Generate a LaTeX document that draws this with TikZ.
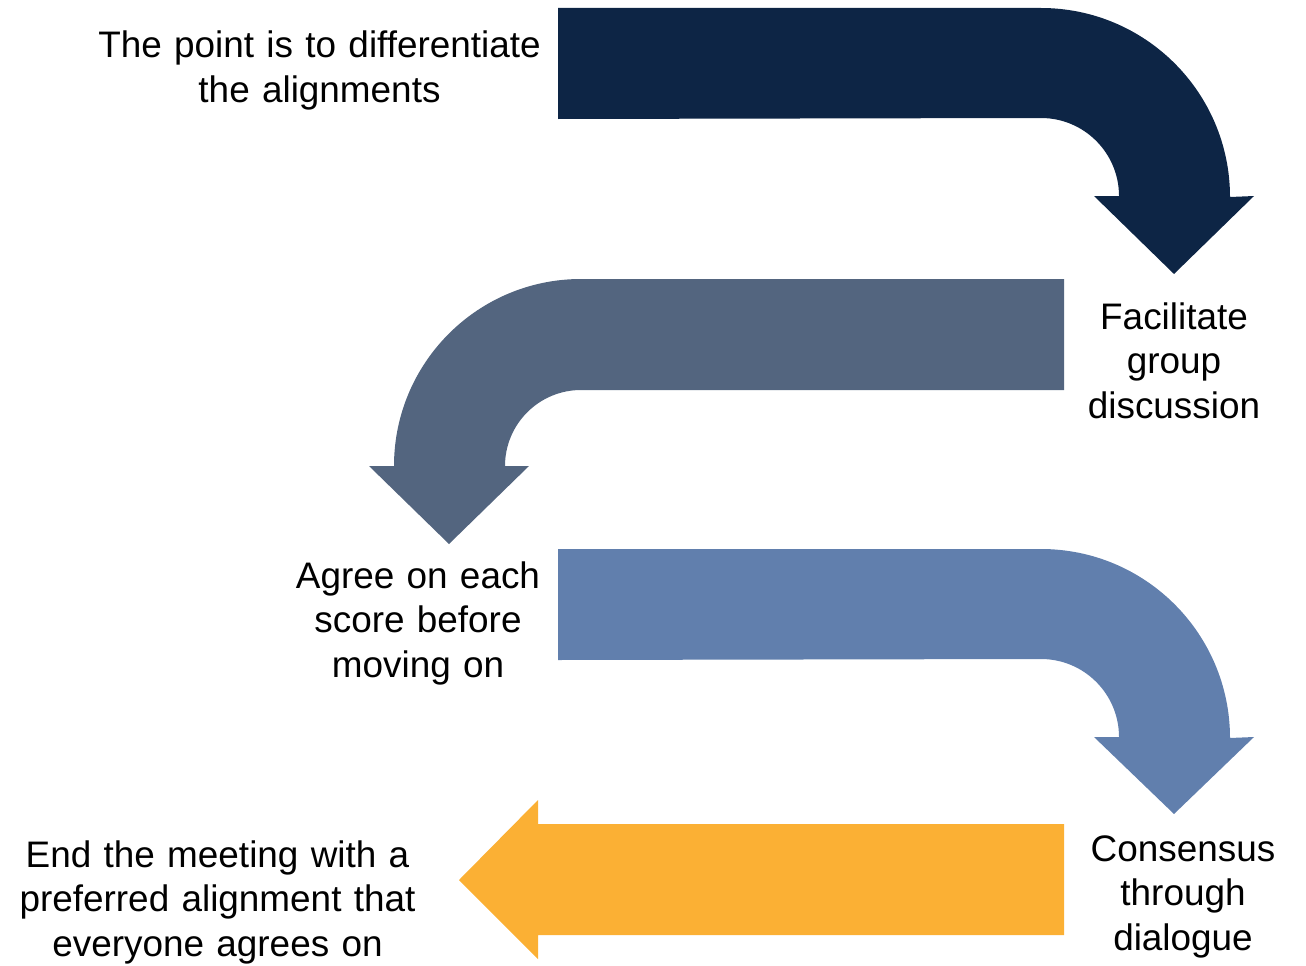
\documentclass[tikz,border=0pt]{standalone}
\usepackage{fontspec}
\setmainfont{Liberation Sans}
\definecolor{navy}{HTML}{0D2545}
\definecolor{slate}{HTML}{53657F}
\definecolor{steel}{HTML}{617FAD}
\definecolor{amber}{HTML}{FBB034}
\begin{document}
\begin{tikzpicture}[x=1pt,y=1pt,
  lbl/.style={inner sep=0pt, align=center, text width=#1, anchor=base,
    font=\fontsize{36.9}{44.9}\selectfont, text=black},
  lbl/.default=460pt]
\useasboundingbox (0,0) rectangle (1306,-966);
% arrow 1 (navy)
\fill[navy] (558,-8) -- (1041,-8) arc[start angle=90, end angle=0, radius=189]
  -- (1254,-196) -- (1174,-274) -- (1094,-196) -- (1119,-196)
  arc[start angle=0, end angle=90, radius=78] -- (558,-119) -- cycle;
% arrow 2 (slate)
\fill[slate] (1064,-279) -- (581,-279) arc[start angle=90, end angle=180, radius=187]
  -- (369,-466) -- (449,-544) -- (529,-466) -- (505,-466)
  arc[start angle=180, end angle=90, radius=76] -- (1064,-390) -- cycle;
% arrow 3 (steel blue)
\fill[steel] (558,-549) -- (1041,-549) arc[start angle=90, end angle=0, radius=189]
  -- (1254,-737) -- (1174,-814) -- (1094,-737) -- (1119,-737)
  arc[start angle=0, end angle=90, radius=78] -- (558,-660) -- cycle;
% arrow 4 (amber)
\fill[amber] (1064,-824) -- (538,-824) -- (538,-800) -- (459,-880) -- (538,-959)
  -- (538,-935) -- (1064,-935) -- cycle;
% labels
\node[lbl] (t1) at (319.5,-58) {The point is to differentiate\\the alignments};
\node[lbl=220pt] (t2) at (1174,-329) {Facilitate\\group\\discussion};
\node[lbl=300pt] (t3) at (418,-588) {Agree on each\\score before\\moving on};
\node[lbl=440pt] (t4) at (217.5,-867) {End the meeting with a\\preferred alignment that\\everyone agrees on};
\node[lbl=230pt] (t5) at (1183,-861) {Consensus\\through\\dialogue};
\end{tikzpicture}
\end{document}
